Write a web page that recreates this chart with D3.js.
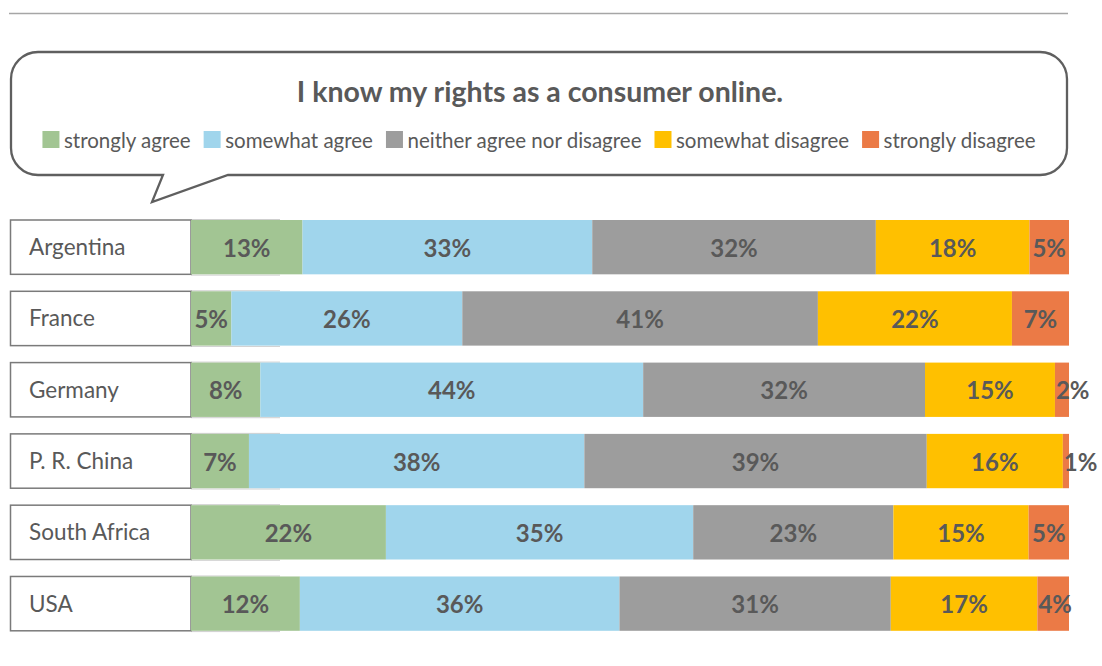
<!DOCTYPE html>
<html>
<head>
<meta charset="utf-8">
<script src="https://cdn.jsdelivr.net/npm/d3@7"></script>
<style>
  html, body { margin: 0; padding: 0; background: #fff; }
  svg { display: block; }
  text { font-family: Lato, "Open Sans", sans-serif; }
</style>
</head>
<body>
<svg id="chart" width="1102" height="666"></svg>
<script>
// ---------- data ----------
const title = "I know my rights as a consumer online.";
const categories = ["Argentina", "France", "Germany", "P. R. China", "South Africa", "USA"];
const seriesNames = ["strongly agree", "somewhat agree", "neither agree nor disagree", "somewhat disagree", "strongly disagree"];
const stronglyAgree    = [12.7,  4.6,  7.9,  6.6, 22.2, 12.4];
const somewhatAgree    = [33.0, 26.3, 43.6, 38.2, 35.0, 36.4];
const neitherAgree     = [32.3, 40.5, 32.1, 39.0, 22.8, 30.9];
const somewhatDisagree = [17.5, 22.1, 14.8, 15.5, 15.4, 16.7];
const stronglyDisagree = [ 4.5,  6.5,  1.6,  0.7,  4.6,  3.6];
const seriesColors = ["#A2C593", "#A0D5EC", "#9D9D9D", "#FFC000", "#EB7A46"];

// ---------- build table ----------
const seriesArrays = [stronglyAgree, somewhatAgree, neitherAgree, somewhatDisagree, stronglyDisagree];
const table = categories.map((c, i) => {
  const row = { country: c };
  seriesNames.forEach((s, j) => { row[s] = seriesArrays[j][i]; });
  return row;
});
const stacked = d3.stack().keys(seriesNames)(table);

const svg = d3.select("#chart");
const textColor = "#595959";

// ---------- scales ----------
const barX0 = 191, barX1 = 1069;
const x = d3.scaleLinear().domain([0, 100]).range([barX0, barX1]);
const y = d3.scaleBand().domain(categories).range([220, 630.8]).paddingInner(0.238).paddingOuter(0);
const color = d3.scaleOrdinal().domain(seriesNames).range(seriesColors);

// ---------- top rule ----------
svg.append("line")
  .attr("x1", 9).attr("x2", 1068).attr("y1", 13.5).attr("y2", 13.5)
  .attr("stroke", "#a6a6a6").attr("stroke-width", 1.5);

// ---------- speech bubble ----------
(function () {
  const x0 = 11, x1 = 1067, y0 = 52, y1 = 175, r = 27;
  const tA = 163, tB = 228, tipX = 152, tipY = 202;
  const p = d3.path();
  p.moveTo(x0 + r, y0);
  p.lineTo(x1 - r, y0);
  p.arcTo(x1, y0, x1, y0 + r, r);
  p.lineTo(x1, y1 - r);
  p.arcTo(x1, y1, x1 - r, y1, r);
  p.lineTo(tB, y1);
  p.lineTo(tipX, tipY);
  p.lineTo(tA, y1);
  p.lineTo(x0 + r, y1);
  p.arcTo(x0, y1, x0, y1 - r, r);
  p.lineTo(x0, y0 + r);
  p.arcTo(x0, y0, x0 + r, y0, r);
  p.closePath();
  svg.append("path").attr("d", p.toString())
    .attr("fill", "#fff").attr("stroke", "#5f5f5f").attr("stroke-width", 2.3)
    .attr("stroke-linejoin", "miter");
})();

// ---------- title ----------
svg.append("text")
  .attr("x", 540).attr("y", 102)
  .attr("text-anchor", "middle")
  .attr("font-size", 28.5).attr("font-weight", "bold")
  .attr("fill", textColor)
  .text(title);

// ---------- legend ----------
(function () {
  const g = svg.append("g");
  const sq = 17, gapText = 4.5, gapItem = 13;
  const items = g.selectAll("g.item").data(seriesNames).join("g").attr("class", "item");
  items.append("rect").attr("width", sq).attr("height", sq).attr("y", 131)
    .attr("fill", d => color(d));
  items.append("text").attr("y", 147.5).attr("font-size", 20.5).attr("fill", textColor).text(d => d);
  let widths = [];
  items.each(function () { widths.push(d3.select(this).select("text").node().getComputedTextLength()); });
  const total = d3.sum(widths, w => sq + gapText + w) + gapItem * (widths.length - 1);
  let cx = 539 - total / 2;
  items.each(function (d, i) {
    const it = d3.select(this);
    it.select("rect").attr("x", cx);
    it.select("text").attr("x", cx + sq + gapText);
    cx += sq + gapText + widths[i] + gapItem;
  });
})();

// ---------- category label boxes ----------
const rows = svg.append("g");
categories.forEach(c => {
  const top = y(c), h = y.bandwidth();
  rows.append("line").attr("x1", barX0).attr("x2", 280).attr("y1", top - 0.5).attr("y2", top - 0.5)
    .attr("stroke", "#cfcfcf").attr("stroke-width", 1);
  rows.append("line").attr("x1", barX0).attr("x2", 280).attr("y1", top + h + 0.8).attr("y2", top + h + 0.8)
    .attr("stroke", "#cfcfcf").attr("stroke-width", 1);
  rows.append("rect").attr("x", 10.5).attr("y", top).attr("width", barX0 - 10.5).attr("height", h)
    .attr("fill", "#fff").attr("stroke", "#7a7a7a").attr("stroke-width", 1.5);
  rows.append("text").attr("x", 29).attr("y", top + h / 2 + 8)
    .attr("font-size", 22.5).attr("fill", textColor).text(c);
});

// ---------- bars ----------
const layers = svg.append("g").selectAll("g.layer").data(stacked).join("g")
  .attr("class", "layer").attr("fill", d => color(d.key));
layers.selectAll("rect").data(d => d).join("rect")
  .attr("x", d => x(d[0]))
  .attr("width", d => x(d[1]) - x(d[0]))
  .attr("y", d => y(d.data.country))
  .attr("height", y.bandwidth());

// ---------- value labels ----------
const labelG = svg.append("g");
stacked.forEach(layer => {
  layer.forEach(d => {
    const v = d[1] - d[0];
    const t = labelG.append("text")
      .attr("y", y(d.data.country) + y.bandwidth() / 2 + 9.5)
      .attr("font-size", 24).attr("font-weight", "bold")
      .attr("fill", textColor)
      .text(Math.round(v) + "%");
    const w = t.node().getComputedTextLength();
    const segW = x(d[1]) - x(d[0]);
    if (w > segW) {
      t.attr("x", x(d[0]) + 1).attr("text-anchor", "start");
    } else {
      t.attr("x", (x(d[0]) + x(d[1])) / 2).attr("text-anchor", "middle");
    }
  });
});
</script>
</body>
</html>
